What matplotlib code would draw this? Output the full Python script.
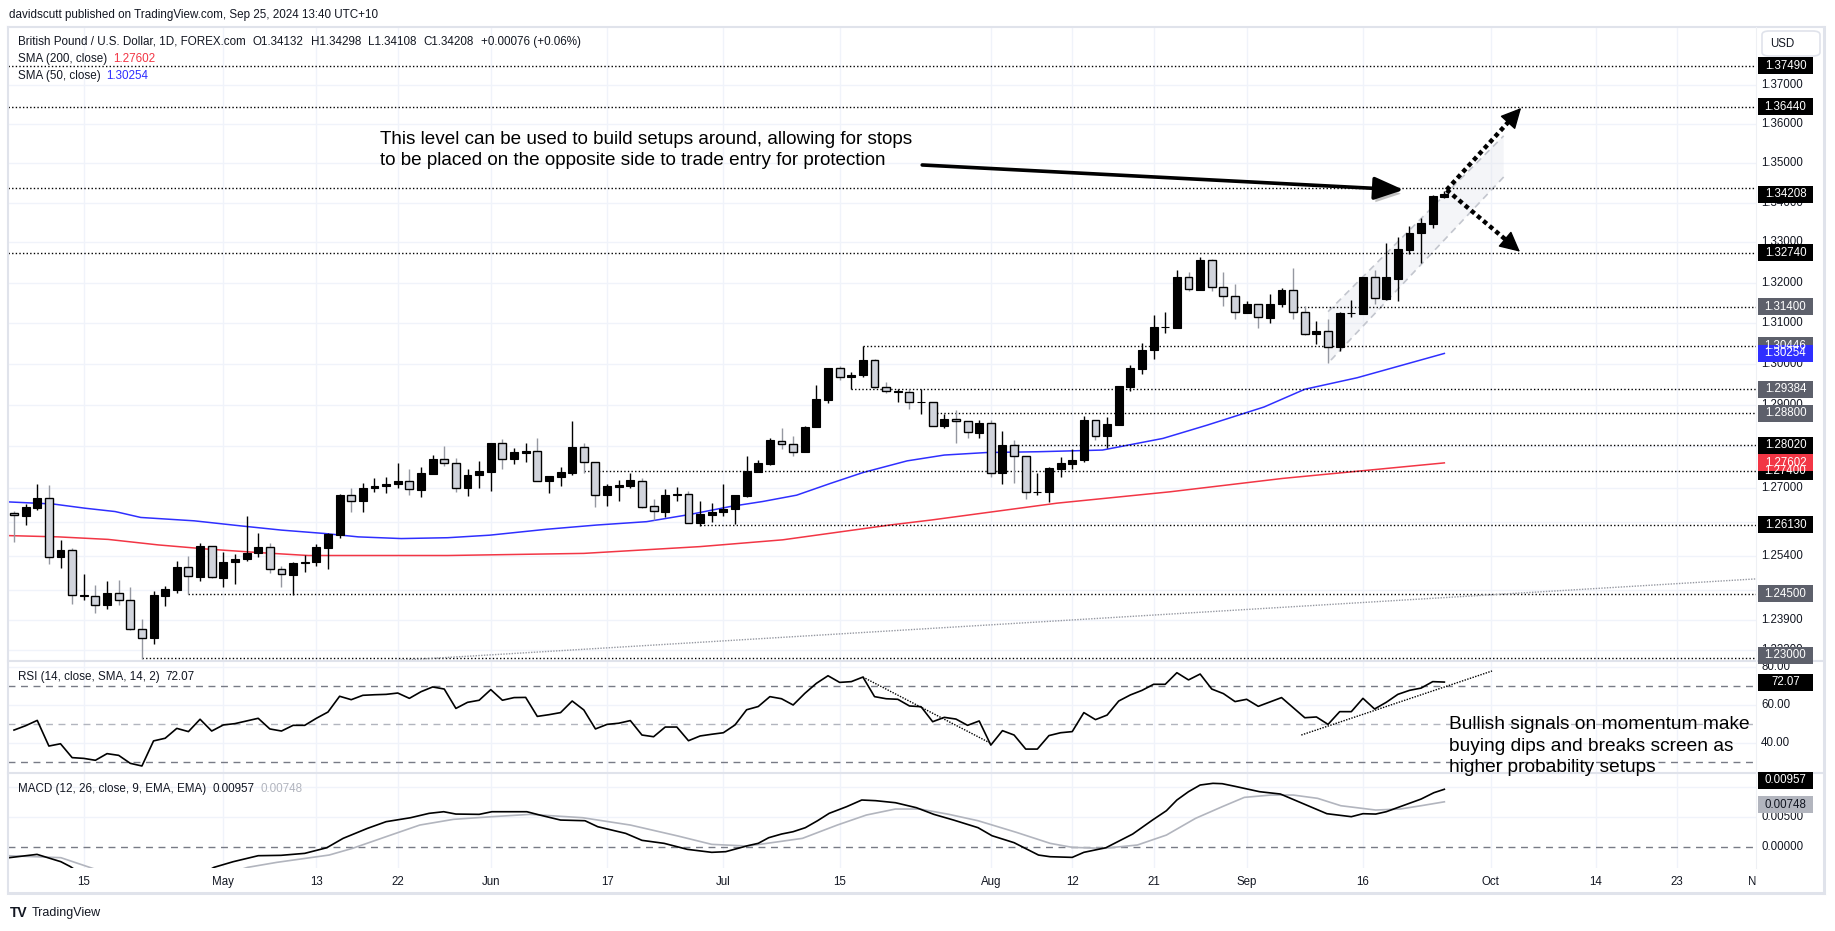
import numpy as np
import pandas as pd
import matplotlib
matplotlib.use("Agg")
import matplotlib.pyplot as plt
from matplotlib.patches import Rectangle, FancyBboxPatch, Polygon
from matplotlib.lines import Line2D
from matplotlib import transforms
import matplotlib.patheffects as pe

plt.rcParams['font.family'] = ['Liberation Sans', 'DejaVu Sans']

W, H = 1835, 931
TXT = '#131722'

# ---------------- data (GBPUSD daily) ----------------
dates = pd.bdate_range("2024-04-05", "2024-09-25")

opens = [1.2641, 1.2634, 1.2653, 1.2676, 1.2537, 1.2552, 1.2446, 1.2444, 1.2423, 1.2451,
         1.2435, 1.2367, 1.2346, 1.2446, 1.2460, 1.2513, 1.2490, 1.2562, 1.2488, 1.2525,
         1.2531, 1.2545, 1.2560, 1.2508, 1.2495, 1.2522, 1.2525, 1.2558, 1.2588, 1.2683,
         1.2668, 1.2699, 1.2704, 1.2709, 1.2716, 1.2696, 1.2734, 1.2770, 1.2759, 1.2699,
         1.2730, 1.2739, 1.2807, 1.2769, 1.2785, 1.2788, 1.2718, 1.2727, 1.2737, 1.2798,
         1.2762, 1.2683, 1.2703, 1.2706, 1.2718, 1.2657, 1.2644, 1.2684, 1.2685, 1.2618,
         1.2637, 1.2644, 1.2649, 1.2682, 1.2739, 1.2758, 1.2813, 1.2806, 1.2786, 1.2846,
         1.2912, 1.2989, 1.2967, 1.2972, 1.3009, 1.2943, 1.2932, 1.2931, 1.2906, 1.2906,
         1.2850, 1.2867, 1.2860, 1.2833, 1.2855, 1.2737, 1.2802, 1.2776, 1.2690, 1.2690,
         1.2746, 1.2758, 1.2766, 1.2863, 1.2826, 1.2851, 1.2943, 1.2987, 1.3033, 1.3090,
         1.3088, 1.3215, 1.3182, 1.3257, 1.3188, 1.3166, 1.3125, 1.3146, 1.3113, 1.3146,
         1.3181, 1.3128, 1.3072, 1.3080, 1.3042, 1.3124, 1.3123, 1.3215, 1.3159, 1.3210,
         1.3282, 1.3323, 1.3347, 1.34132]
highs = [1.2646, 1.2662, 1.2710, 1.2707, 1.2577, 1.2557, 1.2497, 1.2471, 1.2480, 1.2482,
         1.2467, 1.2391, 1.2457, 1.2469, 1.2527, 1.2540, 1.2570, 1.2562, 1.2548, 1.2544,
         1.2633, 1.2593, 1.2569, 1.2515, 1.2524, 1.2541, 1.2567, 1.2592, 1.2686, 1.2699,
         1.2711, 1.2723, 1.2726, 1.2759, 1.2745, 1.2750, 1.2778, 1.2801, 1.2771, 1.2746,
         1.2765, 1.2807, 1.2818, 1.2795, 1.2807, 1.2819, 1.2729, 1.2750, 1.2861, 1.2808,
         1.2762, 1.2710, 1.2719, 1.2737, 1.2725, 1.2673, 1.2698, 1.2703, 1.2693, 1.2669,
         1.2664, 1.2710, 1.2684, 1.2777, 1.2767, 1.2819, 1.2845, 1.2825, 1.2848, 1.2948,
         1.2989, 1.2994, 1.2979, 1.3044, 1.3012, 1.2956, 1.2938, 1.2938, 1.2938, 1.2907,
         1.2879, 1.2887, 1.2861, 1.2863, 1.2863, 1.2837, 1.2814, 1.2776, 1.2737, 1.2751,
         1.2774, 1.2793, 1.2873, 1.2863, 1.2870, 1.2945, 1.2996, 1.3051, 1.3119, 1.3128,
         1.3231, 1.3226, 1.3264, 1.3259, 1.3226, 1.3197, 1.3155, 1.3146, 1.3172, 1.3187,
         1.3237, 1.3142, 1.3105, 1.3111, 1.3128, 1.3156, 1.3215, 1.3230, 1.3299, 1.3313,
         1.3340, 1.3362, 1.3418, 1.34298]
lows = [1.2571, 1.2612, 1.2648, 1.2520, 1.2511, 1.2426, 1.2436, 1.2406, 1.2415, 1.2424,
        1.2366, 1.2298, 1.2333, 1.2422, 1.2452, 1.2449, 1.2481, 1.2487, 1.2467, 1.2472,
        1.2526, 1.2537, 1.2500, 1.2467, 1.2447, 1.2502, 1.2515, 1.2509, 1.2582, 1.2644,
        1.2644, 1.2690, 1.2687, 1.2699, 1.2684, 1.2678, 1.2734, 1.2753, 1.2690, 1.2682,
        1.2701, 1.2694, 1.2746, 1.2757, 1.2763, 1.2717, 1.2687, 1.2706, 1.2731, 1.2737,
        1.2656, 1.2658, 1.2668, 1.2701, 1.2652, 1.2624, 1.2632, 1.2670, 1.2616, 1.2610,
        1.2620, 1.2634, 1.2614, 1.2678, 1.2739, 1.2754, 1.2794, 1.2777, 1.2786, 1.2846,
        1.2904, 1.2961, 1.2938, 1.2967, 1.2941, 1.2928, 1.2906, 1.2889, 1.2879, 1.2850,
        1.2844, 1.2807, 1.2821, 1.2819, 1.2727, 1.2709, 1.2711, 1.2673, 1.2683, 1.2666,
        1.2727, 1.2746, 1.2763, 1.2816, 1.2797, 1.2851, 1.2934, 1.2975, 1.3012, 1.3076,
        1.3088, 1.3179, 1.3181, 1.3178, 1.3142, 1.3111, 1.3125, 1.3088, 1.3101, 1.3139,
        1.3111, 1.3070, 1.3048, 1.3002, 1.3032, 1.3115, 1.3123, 1.3146, 1.3156, 1.3154,
        1.3270, 1.3249, 1.3335, 1.34108]
closes = [1.2635, 1.2655, 1.2676, 1.2537, 1.2553, 1.2447, 1.2447, 1.2423, 1.2451, 1.2435,
          1.2367, 1.2347, 1.2447, 1.2461, 1.2513, 1.2491, 1.2562, 1.2489, 1.2525, 1.2532,
          1.2546, 1.2560, 1.2508, 1.2496, 1.2522, 1.2525, 1.2559, 1.2591, 1.2683, 1.2668,
          1.2699, 1.2705, 1.2710, 1.2717, 1.2697, 1.2735, 1.2770, 1.2759, 1.2699, 1.2731,
          1.2741, 1.2807, 1.2770, 1.2786, 1.2789, 1.2718, 1.2729, 1.2738, 1.2798, 1.2762,
          1.2683, 1.2705, 1.2707, 1.2719, 1.2656, 1.2645, 1.2683, 1.2686, 1.2618, 1.2638,
          1.2643, 1.2651, 1.2683, 1.2740, 1.2759, 1.2814, 1.2806, 1.2786, 1.2847, 1.2914,
          1.2989, 1.2967, 1.2973, 1.3010, 1.2943, 1.2933, 1.2933, 1.2906, 1.2907, 1.2850,
          1.2867, 1.2860, 1.2834, 1.2855, 1.2737, 1.2802, 1.2776, 1.2690, 1.2691, 1.2747,
          1.2759, 1.2767, 1.2863, 1.2826, 1.2853, 1.2945, 1.2990, 1.3033, 1.3090, 1.3091,
          1.3215, 1.3185, 1.3257, 1.3188, 1.3166, 1.3126, 1.3146, 1.3114, 1.3146, 1.3181,
          1.3128, 1.3072, 1.3080, 1.3042, 1.3125, 1.3125, 1.3215, 1.3161, 1.3213, 1.3284,
          1.3324, 1.3349, 1.3416, 1.34208]

# moving averages, read at points along the lines (x = bar index)
sma50_x = [-0.5, 3.35, 6.1, 8.7, 10.9, 15.5, 19.5, 23.0, 26.7, 29.6, 33.3, 37.3, 40.9, 45.8,
           50.1, 54.4, 58.1, 61.6, 64.4, 67.3, 70.2, 73.0, 76.8, 80.0, 83.6, 88.1, 93.6, 98.8,
           102.6, 107.5, 111.0, 115.5, 123.0]
sma50 = [1.2667, 1.2662, 1.2652, 1.2644, 1.2630, 1.2622, 1.2610, 1.2600, 1.2592, 1.2584, 1.2580,
         1.2582, 1.2588, 1.2602, 1.2612, 1.2620, 1.2637, 1.2656, 1.2668, 1.2683, 1.2711, 1.2737,
         1.2765, 1.2779, 1.2785, 1.2787, 1.2791, 1.2819, 1.2851, 1.2895, 1.2938, 1.2966, 1.30254]
sma200_x = [-0.5, 3.8, 8.1, 12.4, 16.7, 21.0, 25.3, 31.0, 37.3, 49.0, 59.0, 66.1, 75.3, 78.9,
            89.7, 99.4, 109.1, 123.0]
sma200 = [1.2587, 1.2584, 1.2578, 1.2565, 1.2555, 1.2547, 1.2540, 1.2540, 1.2540, 1.2545, 1.2561,
          1.2577, 1.2612, 1.2624, 1.2664, 1.2691, 1.2723, 1.27602]

rsi = [46.8, 49.1, 51.9, 38.4, 39.6, 32.3, 31.9, 30.9, 34.4, 33.5,
       29.3, 27.9, 41.1, 42.5, 47.7, 46.0, 52.5, 46.3, 49.5, 50.2,
       51.6, 53.0, 47.4, 46.3, 49.3, 49.3, 53.0, 56.3, 64.6, 62.8,
       65.1, 65.4, 65.6, 66.3, 63.5, 67.0, 69.5, 68.4, 58.2, 61.4,
       62.5, 68.1, 62.5, 63.9, 64.0, 54.0, 54.9, 56.0, 62.1, 57.4,
       47.4, 49.8, 50.4, 51.8, 44.2, 43.3, 48.4, 48.4, 41.2, 43.7,
       44.6, 45.4, 49.5, 57.5, 59.2, 64.4, 63.3, 60.0, 66.1, 71.4,
       75.4, 71.9, 72.3, 74.7, 64.4, 63.3, 63.0, 59.5, 59.1, 51.2,
       53.5, 52.6, 49.3, 51.6, 38.9, 46.5, 44.2, 36.8, 36.8, 43.9,
       45.4, 46.0, 56.0, 52.3, 54.7, 62.1, 65.3, 67.7, 70.9, 70.9,
       77.0, 73.2, 76.3, 68.4, 66.0, 61.8, 63.0, 59.3, 61.6, 63.9,
       58.6, 53.3, 53.7, 49.8, 56.5, 56.5, 63.5, 57.9, 61.4, 65.6,
       67.7, 68.9, 72.3, 72.07]

macd_x = [-0.5, 1.98, 4.03, 4.86, 5.5, 16.5, 17.2, 18.85, 21.0, 22.96, 25.0, 26.9, 28.3, 30.4,
          32.0, 34.1, 35.7, 36.95, 38.0, 40.0, 41.1, 44.1, 45.2, 47.0, 49.1, 50.2, 52.6, 54.0,
          55.9, 57.9, 60.0, 61.2, 63.1, 64.0, 64.9, 66.0, 67.0, 68.05, 69.1, 70.1, 71.6, 72.9,
          74.1, 75.8, 77.6, 79.1, 80.8, 82.9, 84.1, 86.0, 88.1, 89.1, 91.0, 92.0, 93.9, 96.2,
          97.9, 99.1, 100.0, 101.0, 102.0, 103.1, 103.9, 105.0, 105.8, 107.1, 108.9, 110.8,
          112.9, 115.0, 116.0, 117.1, 118.0, 119.2, 121.0, 122.1, 123.0]
macd = [-0.00185, -0.00128, -0.0025, -0.00333, -0.0042, -0.0042, -0.00344, -0.0025, -0.0015,
        -0.00144, -0.00111, -0.00017, 0.00139, 0.00306, 0.00417, 0.00483, 0.00556, 0.00583,
        0.00544, 0.00539, 0.00583, 0.00583, 0.00528, 0.00444, 0.00433, 0.00333, 0.00222,
        0.00106, 0.00056, -0.00044, -0.00094, -0.00083, 0.00017, 0.00056, 0.0015, 0.00211,
        0.0025, 0.00317, 0.00433, 0.00556, 0.00667, 0.00778, 0.00767, 0.00733, 0.0065,
        0.00539, 0.00444, 0.00317, 0.00183, 0.00067, -0.00139, -0.00167, -0.00178, -0.00094,
        -0.00017, 0.00211, 0.00444, 0.006, 0.00778, 0.00917, 0.01028, 0.01056, 0.0105,
        0.01006, 0.00972, 0.00917, 0.00878, 0.00722, 0.0055, 0.005, 0.0055, 0.00544, 0.00583,
        0.00667, 0.00794, 0.009, 0.00957]
signal_x = [-0.5, 4.03, 6.5, 7.5, 19.0, 20.1, 22.6, 27.1, 29.1, 32.4, 34.9, 37.8, 41.1, 44.4,
            48.9, 53.0, 57.1, 60.0, 63.1, 67.8, 70.8, 73.3, 75.8, 77.9, 80.4, 82.9, 86.2, 89.1,
            91.0, 93.7, 96.6, 99.1, 101.6, 103.9, 105.8, 108.1, 110.0, 112.1, 114.1, 117.1,
            119.2, 121.0, 123.0]
signal = [-0.0015, -0.00183, -0.00344, -0.0041, -0.0041, -0.00344, -0.00261, -0.00139, -0.00028,
          0.00194, 0.00361, 0.00456, 0.005, 0.00539, 0.00483, 0.00361, 0.00178, 0.00039,
          0.00011, 0.00139, 0.00361, 0.00528, 0.00628, 0.00628, 0.00539, 0.00433, 0.00239,
          0.00056, -0.00011, -0.00028, 0.00028, 0.00194, 0.00472, 0.00667, 0.00822, 0.00861,
          0.00861, 0.00806, 0.00683, 0.00611, 0.00628, 0.00683, 0.00748]

# horizontal levels drawn on the chart (value, first bar, label colour)
level_values = [1.3749, 1.3644, 1.3437, 1.3274, 1.3140, 1.30446, 1.29384, 1.2880, 1.2802,
                1.2740, 1.2613, 1.2450, 1.2300]
level_start = [-0.5, -0.5, -0.5, -0.5, 110, 73, 72, 79, 86, 49, 59, 15, 11]
level_box = ['1.37490', '1.36440', None, '1.32740', '1.31400', '1.30446', '1.29384', '1.28800',
             '1.28020', '1.27400', '1.26130', '1.24500', '1.23000']
level_dark = [True, True, True, True, False, False, False, False, True, True, True, False, False]

# price grid (all) and the scale labels that are not hidden behind a level box
price_ticks = [1.37, 1.36, 1.35, 1.34, 1.33, 1.32, 1.31, 1.30, 1.29, 1.28, 1.27, 1.262, 1.254,
               1.246, 1.239, 1.232]
price_tick_labels = [1.37, 1.36, 1.35, 1.34, 1.33, 1.32, 1.31, 1.30, 1.29, 1.27, 1.254, 1.239,
                     1.232]
tick_dates = ["2024-04-15", "2024-05-01", "2024-05-13", "2024-05-22", "2024-06-03", "2024-06-17",
              "2024-07-01", "2024-07-15", "2024-08-01", "2024-08-12", "2024-08-21", "2024-09-02",
              "2024-09-16", "2024-10-01", "2024-10-14", "2024-10-23", "2024-11-01"]
tick_labels = ["15", "May", "13", "22", "Jun", "17", "Jul", "15", "Aug", "12", "21", "Sep", "16",
               "Oct", "14", "23", "Nov"]

# drawings
channel_x = [113.0, 128.1, 128.1, 113.0]
channel_y = [1.3128, 1.3569, 1.34645, 1.30017]
rsi_trend1 = ([73, 84], [74.7, 39.8])
rsi_trend2 = ([110.7, 127.1], [44.2, 77.9])
long_trend = ([32.3, 149.8], [1.2294, 1.2485])

# ---------------- figure ----------------
fig = plt.figure(figsize=(W / 100, H / 100), dpi=100, facecolor='white')


def fx(px):
    return px / W


def fy(py):
    return 1 - py / H


X0, X1 = 8, 1756
xmin, xmax = -0.516, 149.8
ax_p = fig.add_axes([fx(X0), fy(661), (X1 - X0) / W, (661 - 27) / H])
ax_r = fig.add_axes([fx(X0), fy(773), (X1 - X0) / W, (773 - 661) / H])
ax_m = fig.add_axes([fx(X0), fy(868), (X1 - X0) / W, (868 - 773) / H])

for ax in (ax_p, ax_r, ax_m):
    for s in ax.spines.values():
        s.set_visible(False)
    ax.set_xlim(xmin, xmax)

ax_p.set_yscale('log')
ax_p.set_ylim(1.229383, 1.38495)
ax_r.set_ylim(24.21, 83.16)
ax_m.set_ylim(-0.00355, 0.012283)
for ax in (ax_p, ax_r, ax_m):
    ax.tick_params(which='both', length=0, labelleft=False, labelbottom=False)
    ax.set_xticks([])
    ax.set_yticks([])
    ax.set_yticks([], minor=True)

full = pd.bdate_range("2024-04-05", "2024-11-29")
tick_pos = [full.get_loc(pd.Timestamp(d)) for d in tick_dates]

GRID = '#f0f3fa'
for ax in (ax_p, ax_r, ax_m):
    for t in tick_pos:
        ax.axvline(t, color=GRID, lw=1, zorder=0)
for v in price_ticks:
    ax_p.axhline(v, color=GRID, lw=1, zorder=0)
for v in (80, 60, 40):
    ax_r.axhline(v, color=GRID, lw=1, zorder=0)
for v in (0.005, 0.01):
    ax_m.axhline(v, color=GRID, lw=1, zorder=0)

# ---- candles ----
o = np.array(opens); h = np.array(highs); l = np.array(lows); c = np.array(closes)
x = np.arange(len(dates))
up = c >= o
bot = np.minimum(o, c)
hgt = np.maximum(np.abs(c - o), 0.00003)
ax_p.vlines(x[up], l[up], h[up], color='black', lw=1, zorder=3)
ax_p.vlines(x[~up], l[~up], h[~up], color='#9598a1', lw=1, zorder=3)
ax_p.bar(x[up], hgt[up], bottom=bot[up], width=0.68, color='black', edgecolor='black',
         lw=0.8, zorder=4)
ax_p.bar(x[~up], hgt[~up], bottom=bot[~up], width=0.68, color='#d1d4dc', edgecolor='black',
         lw=1.0, zorder=4)
ax_p.set_ylim(1.229383, 1.38495)
ax_p.set_xlim(xmin, xmax)

ax_p.plot(sma50_x, sma50, color='#2f2fff', lw=1.1, zorder=2)
ax_p.plot(sma200_x, sma200, color='#f23645', lw=1.1, zorder=2)

# levels
for v, s0 in zip(level_values, level_start):
    ax_p.plot([s0, xmax], [v, v], color='black', lw=1, ls=(0, (1, 1.6)), zorder=2)
ax_p.plot(*long_trend, color='#9598a1', lw=1, ls=(0, (1, 1)), zorder=2)

# channel
ax_p.add_patch(Polygon(list(zip(channel_x, channel_y)), closed=True, fc='#e0e3eb', alpha=0.35,
                       ec='none', zorder=1))
ax_p.plot(channel_x[:2], channel_y[:2], color='#c3c6ce', lw=1.2, ls=(0, (4, 3)), zorder=1.5)
ax_p.plot(channel_x[2:], channel_y[2:], color='#c3c6ce', lw=1.2, ls=(0, (4, 3)), zorder=1.5)

# big arrow with shadow
ann = ax_p.annotate('', xy=(119.5, 1.3432), xytext=(78.1, 1.3495),
                    arrowprops=dict(arrowstyle='-|>,head_length=0.9,head_width=0.35',
                                    color='black', lw=2.6, mutation_scale=20,
                                    shrinkA=0, shrinkB=0), zorder=6)
ann.arrow_patch.set_path_effects([pe.withSimplePatchShadow(offset=(1.5, -3),
                                                           shadow_rgbFace='#777777', alpha=0.45)])

# dotted projection arrows
start = (123.2, 1.3432)
for end in [(129.6, 1.36403), (129.5, 1.32768)]:
    f = 0.86
    mx = start[0] + f * (end[0] - start[0])
    my = np.exp(np.log(start[1]) + f * (np.log(end[1]) - np.log(start[1])))
    ax_p.plot([start[0], mx], [start[1], my], color='black', lw=3.2, ls=(0, (1, 0.8)),
              solid_capstyle='butt', zorder=6)
    ax_p.annotate('', xy=end, xytext=(mx, my),
                  arrowprops=dict(arrowstyle='-|>,head_length=0.8,head_width=0.4',
                                  color='black', lw=1, mutation_scale=16,
                                  shrinkA=0, shrinkB=0), zorder=6)

fig.text(fx(380), fy(143.5), "This level can be used to build setups around, allowing for stops",
         fontsize=13.6, va='baseline', color='black')
fig.text(fx(380), fy(165), "to be placed on the opposite side to trade entry for protection",
         fontsize=13.6, va='baseline', color='black')

# ---- RSI ----
ax_r.plot(x, rsi, color='black', lw=1.2, zorder=3)
ax_r.axhline(70, color='#787b86', lw=1, ls=(0, (5, 4)), zorder=1)
ax_r.axhline(30, color='#787b86', lw=1, ls=(0, (5, 4)), zorder=1)
ax_r.axhline(50, color='#b2b5be', lw=1, ls=(0, (5, 4)), zorder=1)
ax_r.plot(*rsi_trend1, color='black', lw=1, ls=(0, (1, 1)), zorder=2)
ax_r.plot(*rsi_trend2, color='black', lw=1, ls=(0, (1, 1)), zorder=2)
for yy, s in [(729, "Bullish signals on momentum make"), (751, "buying dips and breaks screen as"),
              (772, "higher probability setups")]:
    fig.text(fx(1449), fy(yy), s, fontsize=13.8, va='baseline', color='black', zorder=8)

# ---- MACD ----
ax_m.plot(signal_x, signal, color='#b2b5be', lw=1.2, zorder=2)
ax_m.plot(macd_x, macd, color='black', lw=1.2, zorder=3)
ax_m.axhline(0, color='#787b86', lw=1, ls=(0, (5, 4)), zorder=1)

# ---------------- frame, separators ----------------
BORDER = '#e0e3eb'


def fline(x0, y0, x1, y1, lw=1.5, color=BORDER):
    fig.add_artist(Line2D([fx(x0), fx(x1)], [fy(y0), fy(y1)], transform=fig.transFigure,
                          color=color, lw=lw, zorder=4))


fline(8, 27, 1824, 27)
fline(8, 893, 1824, 893, lw=2.2)
fline(8, 27, 8, 893)
fline(1824, 27, 1824, 893, lw=2.2)
fline(8, 661, 1824, 661)
fline(8, 773, 1824, 773)
fline(1756, 27, 1756, 868, lw=0.8, color='#eef0f4')

# ---------------- right scale ----------------


def ypix(ax, v):
    return H - ax.transData.transform((0, v))[1]


def scale_label(ax, v, s, dy=0):
    fig.text(fx(1761), fy(ypix(ax, v) + dy), s, ha='left', va='center', fontsize=8.3,
             color=TXT, zorder=5)


def scale_box(ax, v, s, fc, tc='white', dy=0):
    y = ypix(ax, v) + dy
    fig.add_artist(Rectangle((fx(1758), fy(y + 8.5)), 55 / W, 17 / H, transform=fig.transFigure,
                             fc=fc, ec='none', zorder=6))
    fig.text(fx(1785.5), fy(y), s, ha='center', va='center', fontsize=8.3, color=tc, zorder=7)


for v in price_tick_labels:
    scale_label(ax_p, v, f"{v:.5f}")
for v, s, dark in zip(level_values, level_box, level_dark):
    if s is None:
        continue
    dy = -3.3 if s == '1.23000' else 0
    scale_box(ax_p, v, s, 'black' if dark else '#5d606b', dy=dy)
scale_box(ax_p, 1.34208, '1.34208', 'black')
scale_box(ax_p, 1.30254, '1.30254', '#2f2fff')
scale_box(ax_p, 1.27602, '1.27602', '#f23645')

for v in (80, 60, 40):
    scale_label(ax_r, v, f"{v:.2f}")
scale_box(ax_r, 72.07, '72.07', 'black')

scale_label(ax_m, 0.005, "0.00500")
scale_label(ax_m, 0.0, "0.00000")
scale_box(ax_m, 0.00957, '0.00957', 'black', dy=-9)
scale_box(ax_m, 0.00748, '0.00748', '#b2b5be', tc=TXT, dy=3)

fig.add_artist(FancyBboxPatch((fx(1762), fy(56)), 58 / W, 25 / H,
                              boxstyle='round,pad=0,rounding_size=0.004',
                              transform=fig.transFigure, fc='white', ec=BORDER, lw=1.2, zorder=5))
fig.text(fx(1770), fy(44), "USD", fontsize=8.3, va='center', color=TXT, zorder=6)

# ---------------- time axis ----------------
tb = transforms.blended_transform_factory(ax_m.transData, fig.transFigure)
clip = transforms.Bbox([[X0, 0], [X1, H]])
for t, s in zip(tick_pos, tick_labels):
    tt = fig.text(t, fy(882), s, transform=tb, ha='center', va='center', fontsize=8.3, color=TXT)
    tt.set_clip_box(clip)
    tt.set_clip_on(True)

# ---------------- header / legends ----------------
renderer = fig.canvas.get_renderer()


def text_run(x_px, y_px, parts, size=8.4, gap=6):
    xx = x_px
    for s, col in parts:
        t = fig.text(fx(xx), fy(y_px), s, fontsize=size, va='center', ha='left', color=col,
                     zorder=8)
        xx += t.get_window_extent(renderer=renderer).width + gap


fig.text(fx(9), fy(15), "davidscutt published on TradingView.com, Sep 25, 2024 13:40 UTC+10",
         fontsize=8.4, va='center', color=TXT)
text_run(18, 42, [("British Pound / U.S. Dollar, 1D, FOREX.com", TXT), ("O1.34132", TXT),
                  ("H1.34298", TXT), ("L1.34108", TXT), ("C1.34208", TXT),
                  ("+0.00076 (+0.06%)", TXT)], gap=7)
text_run(18, 59, [("SMA (200, close)", TXT), ("1.27602", '#f23645')])
text_run(18, 76, [("SMA (50, close)", TXT), ("1.30254", '#2f2fff')])
text_run(18, 677, [("RSI (14, close, SMA, 14, 2)", TXT), ("72.07", TXT)])
text_run(18, 789, [("MACD (12, 26, close, 9, EMA, EMA)", TXT), ("0.00957", TXT),
                   ("0.00748", '#b2b5be')])

fig.text(fx(10), fy(913), "TV", fontsize=10, fontweight='heavy', va='center', color=TXT)
fig.text(fx(32), fy(913), "TradingView", fontsize=9, va='center', color=TXT)

fig.savefig("out.png", dpi=100, facecolor='white')
